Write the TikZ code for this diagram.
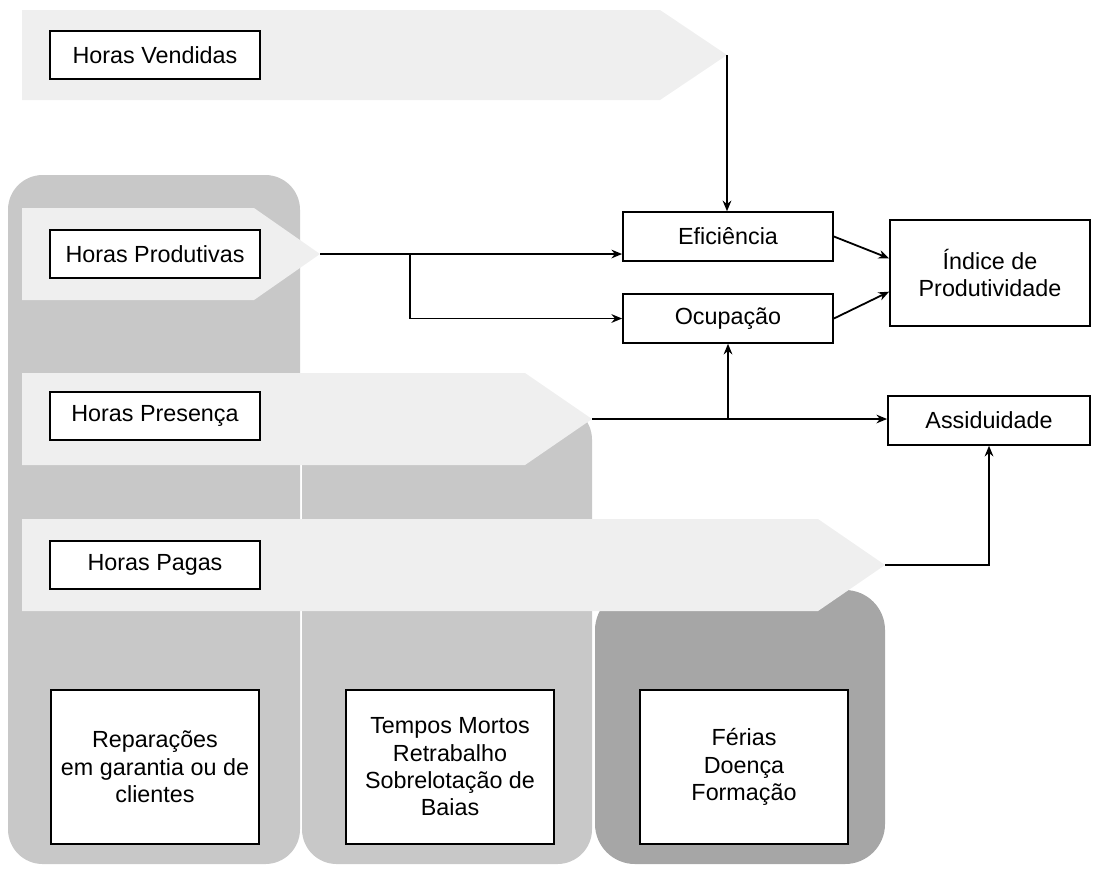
\documentclass[tikz,border=0pt]{standalone}
\usepackage{fontspec}
\setmainfont{Liberation Sans}
\usetikzlibrary{arrows.meta}
\definecolor{chevfill}{HTML}{EFEFEF}
\definecolor{panellight}{HTML}{C8C8C8}
\definecolor{paneldark}{HTML}{A6A6A6}
\begin{document}
\begin{tikzpicture}[x=0.75pt,y=-0.75pt,
  chev/.style={fill=chevfill},
  panel/.style={fill=panellight,rounded corners=26pt},
  box/.style={draw=black,line width=1.35pt,fill=white,inner sep=2pt,align=center,
    font=\fontsize{17.5}{20.5}\selectfont},
  leftbox/.style={box,minimum width=157.5pt,minimum height=36pt},
  causebox/.style={box,minimum width=156pt,minimum height=116pt},
  kpibox/.style={box,minimum width=157.5pt,minimum height=36.5pt},
  arr/.style={line width=1.35pt,-{Stealth[length=8pt,width=6.5pt]}}]
\useasboundingbox (0,0) rectangle (1094,869);

% grey background columns
\fill[panel] (8,175) rectangle (300,864);
\fill[panel] (302,405) rectangle (592,864);
\fill[panel,fill=paneldark,rounded corners=30pt] (595,590) rectangle (885,864);

% hour chevrons
\fill[chev] (22,10) -- (660,10) -- (727,55) -- (660,100) -- (22,100) -- cycle;
\coordinate (vtip) at (727,55);
\fill[chev] (22,208) -- (254,208) -- (320,254) -- (254,300) -- (22,300) -- cycle;
\coordinate (ptip) at (320,254);
\fill[chev] (22,373) -- (525,373) -- (592,419) -- (525,465) -- (22,465) -- cycle;
\coordinate (rtip) at (592,419);
\fill[chev] (22,519) -- (818,519) -- (885,565) -- (818,611) -- (22,611) -- cycle;
\coordinate (gtip) at (885,565);

% labels of the chevrons
\node[leftbox] (vend) at (155,55) {Horas Vendidas};
\node[leftbox] (prod) at (155,254) {Horas Produtivas};
\node[leftbox] (pres) at (155,416) {Horas Presença};
\node[leftbox] (paga) at (155,565) {Horas Pagas};

% causes
\node[causebox] (rep) at (155,767) {Reparações\\em garantia ou de\\clientes};
\node[causebox] (tmp) at (450,767) {Tempos Mortos\\Retrabalho\\Sobrelotação de\\Baias};
\node[causebox] (fer) at (744,767) {Férias\\Doença\\Formação};

% indicators
\node[kpibox] (eff) at (728,236.5) {Eficiência};
\node[kpibox] (occ) at (728,318.5) {Ocupação};
\node[box,minimum width=150pt,minimum height=79.5pt] (idx) at (990,273) {Índice de\\Produtividade};
\node[box,minimum width=151.5pt,minimum height=36.5pt] (ass) at (989,420.5) {Assiduidade};

% connectors
\draw[arr] (vtip) -- (vtip |- eff.north);
\draw[arr] (ptip) -- (ptip -| eff.west);
\coordinate (pb) at (410,254);
\draw[arr] (pb) |- (occ.west);
\draw[arr] (rtip) -- (rtip -| ass.west);
\draw[arr] (occ.south |- rtip) -- (occ.south);
\draw[arr] (eff.east) -- ([yshift=11pt]idx.west);
\draw[arr] (occ.east) -- ([yshift=-14pt]idx.west);
\draw[arr] (gtip) -| (ass.south);
\end{tikzpicture}
\end{document}
